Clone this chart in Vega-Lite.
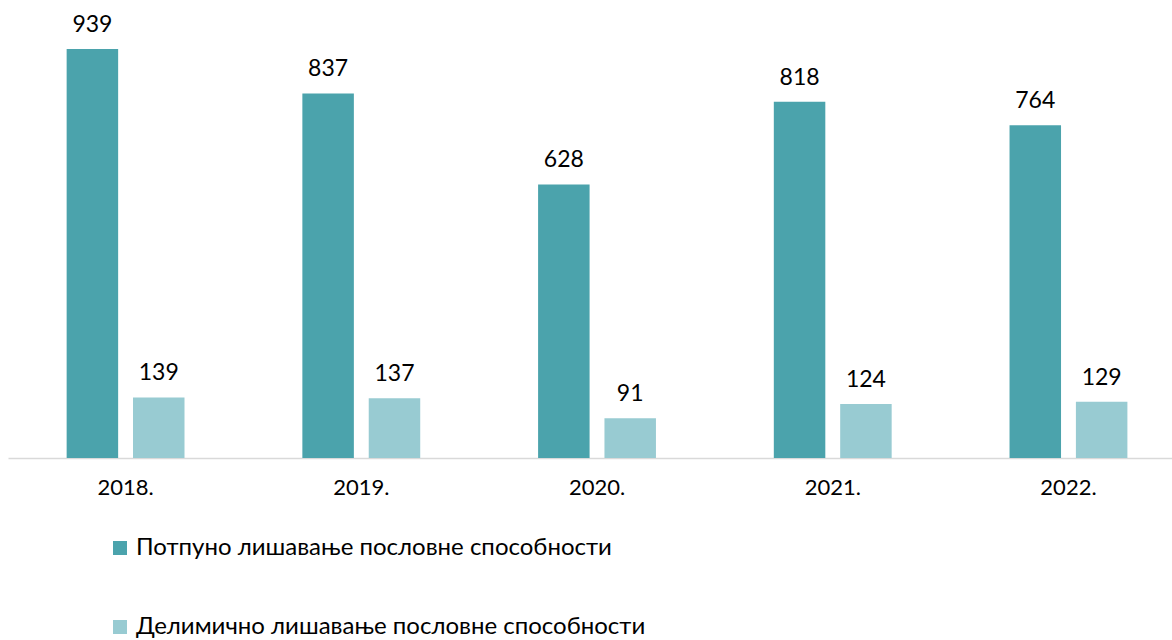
{
  "$schema": "https://vega.github.io/schema/vega-lite/v6.json",
  "width": 1164,
  "height": 448,
  "autosize": "none",
  "padding": {"left": 8, "top": 10, "right": 0, "bottom": 182},
  "background": "white",
  "config": {"view": {"stroke": null}, "font": "Lato"},
  "data": {
    "values": [
      {"year": "2018.", "series": "Потпуно лишавање пословне способности", "value": 939},
      {"year": "2018.", "series": "Делимично лишавање пословне способности", "value": 139},
      {"year": "2019.", "series": "Потпуно лишавање пословне способности", "value": 837},
      {"year": "2019.", "series": "Делимично лишавање пословне способности", "value": 137},
      {"year": "2020.", "series": "Потпуно лишавање пословне способности", "value": 628},
      {"year": "2020.", "series": "Делимично лишавање пословне способности", "value": 91},
      {"year": "2021.", "series": "Потпуно лишавање пословне способности", "value": 818},
      {"year": "2021.", "series": "Делимично лишавање пословне способности", "value": 124},
      {"year": "2022.", "series": "Потпуно лишавање пословне способности", "value": 764},
      {"year": "2022.", "series": "Делимично лишавање пословне способности", "value": 129}
    ]
  },
  "encoding": {
    "x": {
      "field": "year", "type": "nominal", "title": null,
      "scale": {"paddingInner": 0.5, "paddingOuter": 0.219, "align": 0.568},
      "axis": {"labelAngle": 0, "labelFontSize": 22, "labelColor": "#000", "labelFont": "Lato", "labelPadding": 19, "ticks": false, "domainColor": "#d9d9d9", "domainWidth": 1.5, "grid": false}
    },
    "xOffset": {
      "field": "series", "type": "nominal",
      "sort": ["Потпуно лишавање пословне способности", "Делимично лишавање пословне способности"],
      "scale": {"paddingInner": 0.224, "paddingOuter": 0}
    },
    "y": {
      "field": "value", "type": "quantitative", "title": null,
      "scale": {"domain": [0, 1028.5], "nice": false},
      "axis": null
    }
  },
  "layer": [
    {
      "mark": {"type": "bar"},
      "encoding": {
        "color": {
          "field": "series", "type": "nominal",
          "scale": {
            "domain": ["Потпуно лишавање пословне способности", "Делимично лишавање пословне способности"],
            "range": ["#4ba3ac", "#98cbd2"]
          },
          "legend": {
            "orient": "none", "legendX": 100, "legendY": 526, "direction": "vertical",
            "title": null, "symbolType": "square", "symbolSize": 196, "symbolStrokeWidth": 0,
            "labelFontSize": 24, "labelColor": "#000", "labelFont": "Lato", "labelLimit": 1000,
            "rowPadding": 55, "labelOffset": 4
          }
        }
      }
    },
    {
      "mark": {"type": "text", "baseline": "alphabetic", "dy": -17, "fontSize": 23, "color": "#000", "font": "Lato"},
      "encoding": {
        "text": {"field": "value", "type": "quantitative"}
      }
    }
  ]
}
